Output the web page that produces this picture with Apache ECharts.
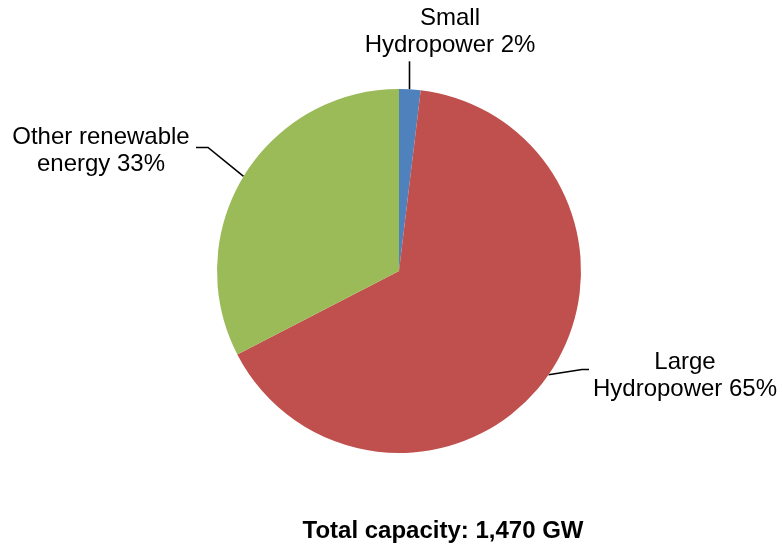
<!DOCTYPE html>
<html>
<head>
<meta charset="utf-8">
<script src="https://cdn.jsdelivr.net/npm/echarts@6/dist/echarts.min.js"></script>
<style>html,body{margin:0;padding:0;background:#fff}#c{width:783px;height:550px}</style>
</head>
<body>
<div id="c"></div>
<script>
const categories = ['Small\nHydropower', 'Large\nHydropower', 'Other renewable\nenergy'];
const capacityGW = [28, 963, 479];
const colors = ['#4F81BD', '#C0504D', '#9BBB59'];
const totalLabel = 'Total capacity: 1,470 GW';

const labelPos = [
  { x: 450, y: 32, line: function (p) { var x = Math.round(p[0]) - 0.5; return [[x, p[1]], [x, p[1] - 28], [x, p[1] - 28]]; } },
  { x: 685, y: 376, line: function (p) { return [p, [582, 369.5], [589, 369.5]]; } },
  { x: 101, y: 151, line: function (p) { return [p, [208, 147.5], [196, 147.5]]; } }
];

const chart = echarts.init(document.getElementById('c'), null, { renderer: 'canvas' });
chart.setOption({
  animation: false,
  color: colors,
  series: [{
    type: 'pie',
    center: [399, 271],
    radius: 182,
    startAngle: 90,
    clockwise: true,
    silent: true,
    avoidLabelOverlap: false,
    percentPrecision: 0,
    data: categories.map(function (c, i) { return { name: c, value: capacityGW[i] }; }),
    itemStyle: { borderWidth: 0 },
    label: {
      show: true,
      position: 'outside',
      formatter: '{b} {d}%',
      fontFamily: 'Liberation Sans, Arial, sans-serif',
      fontSize: 24,
      lineHeight: 27,
      color: '#000',
      align: 'center'
    },
    labelLine: {
      show: true,
      length: 20,
      length2: 10,
      lineStyle: { color: '#000', width: 1.6 }
    },
    labelLayout: function (params) {
      const cfg = labelPos[params.dataIndex];
      const p0 = params.labelLinePoints ? params.labelLinePoints[0] : [0, 0];
      return {
        x: cfg.x,
        y: cfg.y,
        align: 'center',
        verticalAlign: 'middle',
        labelLinePoints: cfg.line(p0)
      };
    }
  }],
  graphic: [{
    type: 'text',
    x: 443,
    y: 531,
    silent: true,
    style: {
      text: totalLabel,
      fontFamily: 'Liberation Sans, Arial, sans-serif',
      fontSize: 24,
      fontWeight: 'bold',
      fill: '#000',
      align: 'center',
      verticalAlign: 'middle'
    }
  }]
});
</script>
</body>
</html>
